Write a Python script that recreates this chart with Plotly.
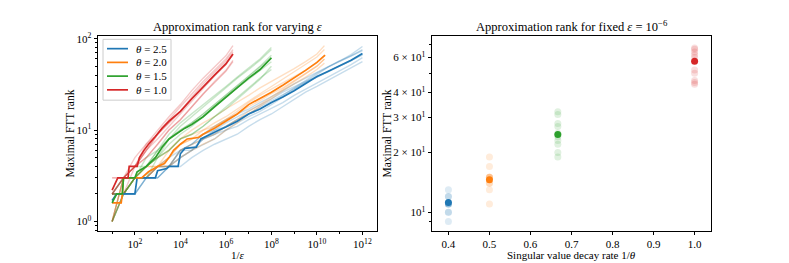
import plotly.graph_objects as go

W, H = 789, 263
FONT = "Liberation Serif"

# ------------------------------------------------------------------ data
thetas = [2.5, 2.0, 1.5, 1.0]
colors = ["#1f77b4", "#ff7f0e", "#2ca02c", "#d62728"]
faint_colors = ["rgba(31,119,180,0.25)", "rgba(255,127,14,0.25)",
                "rgba(44,160,44,0.25)", "rgba(214,39,40,0.25)"]
dot_faint = ["rgba(31,119,180,0.15)", "rgba(255,127,14,0.15)",
             "rgba(44,160,44,0.15)", "rgba(214,39,40,0.15)"]
legend_labels = ["<i>θ</i> = 2.5", "<i>θ</i> = 2.0", "<i>θ</i> = 1.5", "<i>θ</i> = 1.0"]

# log10(1/eps) of the mean curves and mean maximal FTT rank
blue_mean_logx = [1.0, 1.2, 2.0, 2.1, 2.9, 3.0, 3.4, 3.5, 3.9, 4.0, 4.2, 4.7, 4.9, 5.3, 5.7,
                  6.0, 6.5, 7.0, 7.5, 8.0, 8.5, 9.0, 9.5, 10.0, 10.5, 11.0, 11.5, 12.0]
blue_mean_rank = [1.7, 2.0, 2.0, 3.0, 3.0, 3.6, 3.8, 4.0, 4.0, 5.5, 6.3, 6.5, 8.0, 9.0, 10.0,
                  10.8, 12.5, 15.0, 17.0, 20.0, 23.0, 27.0, 32.0, 38.5, 44.0, 50.0, 58.0, 69.0]

orange_mean_logx = [1.0, 1.4, 1.45, 1.5, 2.3, 2.6, 3.0, 3.3, 3.5, 3.7, 4.0, 4.3, 4.8, 5.0,
                    5.5, 6.0, 6.5, 7.0, 7.5, 8.0, 8.5, 9.0, 9.5, 10.0, 10.36]
orange_mean_rank = [1.6, 1.6, 2.0, 3.0, 3.0, 3.5, 4.0, 4.3, 5.0, 6.0, 7.0, 8.0, 8.3, 9.0,
                    10.5, 12.5, 15.0, 19.0, 22.0, 26.0, 31.0, 37.0, 45.0, 55.0, 66.0]

green_mean_logx = [1.0, 1.2, 1.45, 1.5, 2.0, 2.1, 2.5, 2.9, 3.2, 3.5, 3.8, 4.2, 4.5, 5.0,
                   5.5, 6.0, 6.5, 7.0, 7.5, 8.0]
green_mean_rank = [1.6, 2.0, 2.0, 3.0, 3.0, 3.5, 4.0, 5.0, 6.5, 8.0, 9.0, 10.5, 11.5, 14.0,
                   18.0, 23.0, 29.0, 37.0, 46.0, 61.5]

red_mean_logx = [1.0, 1.1, 1.25, 1.7, 1.75, 2.1, 2.2, 2.4, 2.6, 2.9, 3.2, 3.5, 4.0, 4.5,
                 5.0, 5.5, 6.0, 6.31]
red_mean_rank = [2.2, 2.5, 3.0, 3.0, 4.0, 4.0, 5.0, 6.0, 7.0, 8.5, 10.5, 12.5, 16.0, 22.0,
                 30.0, 40.0, 53.0, 68.0]

# individual runs (faint lines), sampled every half decade of 1/eps
blue_grid = [1.0, 1.5, 2.0, 2.5, 3.0, 3.5, 4.0, 4.5, 5.0, 5.5, 6.0, 6.5, 7.0, 7.5, 8.0,
             8.5, 9.0, 9.5, 10.0, 10.5, 11.0, 11.5, 12.0]
blue_runs = [
    [2, 2, 2, 3, 4, 4, 6, 7, 9, 11, 13, 15, 17, 20, 23, 27, 32, 37, 43, 50, 57, 65, 76],
    [1, 2, 3, 3, 3, 4, 5, 6, 8, 9, 11, 13, 15, 17, 20, 24, 29, 35, 42, 49, 56, 64, 74],
    [2, 2, 2, 3, 3, 4, 4, 5, 6, 7, 8, 9, 11, 13, 15, 18, 22, 26, 30, 35, 41, 48, 56],
    [1, 2, 3, 3, 4, 4, 6, 7, 9, 10, 11, 13, 15, 18, 21, 24, 28, 33, 38, 44, 50, 58, 66],
    [2, 2, 2, 3, 4, 5, 6, 7, 8, 9, 10, 12, 14, 16, 19, 23, 28, 34, 41, 49, 57, 67, 82],
    [2, 2, 3, 3, 3, 4, 5, 6, 7, 8, 10, 11, 13, 15, 17, 20, 24, 28, 33, 38, 45, 52, 62],
    [2, 3, 3, 3, 4, 4, 6, 6, 8, 10, 12, 14, 16, 19, 22, 26, 30, 34, 38, 44, 50, 57, 68],
]
orange_grid = [1.0, 1.5, 2.0, 2.5, 3.0, 3.5, 4.0, 4.5, 5.0, 5.5, 6.0, 6.5, 7.0, 7.5, 8.0,
               8.5, 9.0, 9.5, 10.0, 10.33]
orange_runs = [
    [1, 2, 3, 3, 4, 5, 7, 8, 10, 12, 14, 17, 21, 25, 30, 36, 43, 52, 63, 76],
    [1, 3, 3, 4, 4, 6, 8, 9, 10, 11, 13, 15, 18, 21, 25, 29, 35, 42, 50, 60],
    [2, 2, 3, 3, 4, 4, 5, 6, 7, 8, 10, 12, 15, 18, 22, 27, 32, 38, 46, 54],
    [1, 2, 3, 4, 5, 6, 8, 10, 12, 14, 17, 20, 24, 29, 34, 40, 47, 56, 68, 84],
    [2, 2, 3, 3, 4, 4, 6, 7, 8, 9, 11, 13, 16, 19, 23, 28, 34, 41, 50, 60],
    [1, 3, 3, 4, 4, 5, 7, 8, 9, 11, 13, 16, 20, 24, 28, 33, 38, 45, 55, 66],
]
green_grid = [1.0, 1.5, 2.0, 2.5, 3.0, 3.5, 4.0, 4.5, 5.0, 5.5, 6.0, 6.5, 7.0, 7.5, 8.0]
green_runs = [
    [1, 2, 3, 3, 5, 7, 9, 11, 14, 18, 23, 29, 36, 45, 56],
    [2, 2, 3, 4, 6, 8, 11, 14, 18, 23, 29, 37, 46, 58, 76],
    [1, 2, 3, 4, 5, 6, 8, 9, 11, 14, 18, 23, 29, 37, 46],
    [2, 3, 3, 4, 5, 8, 10, 12, 15, 19, 24, 30, 38, 48, 62],
    [1, 3, 3, 5, 6, 9, 12, 15, 19, 24, 30, 38, 48, 60, 80],
    [2, 2, 3, 4, 5, 6, 8, 9, 11, 14, 17, 22, 28, 36, 50],
    [2, 3, 4, 4, 6, 8, 10, 12, 15, 19, 24, 31, 39, 50, 66],
]
red_grid = [1.0, 1.5, 2.0, 2.5, 3.0, 3.5, 4.0, 4.5, 5.0, 5.5, 6.0, 6.31]
red_runs = [
    [2, 3, 4, 6, 8, 11, 15, 21, 29, 39, 52, 68],
    [3, 3, 5, 7, 10, 14, 19, 27, 37, 49, 65, 84],
    [2, 3, 4, 5, 7, 10, 13, 18, 25, 33, 44, 56],
    [1, 3, 4, 6, 9, 12, 16, 22, 30, 40, 54, 66],
    [2, 3, 4, 7, 9, 13, 18, 25, 34, 45, 60, 76],
    [2, 2, 4, 5, 7, 10, 13, 18, 25, 34, 45, 58],
    [3, 3, 4, 6, 9, 12, 16, 23, 32, 43, 57, 72],
]

# right panel: rank at eps = 1e-6 for each run, and the mean
blue_fixed = [9, 10, 10, 11, 11, 11, 11, 12, 12, 13]
orange_fixed = [11, 13, 14, 14, 15, 15, 15, 15, 17, 19]
green_fixed = [19, 20, 22, 23, 24, 25, 27, 28, 31, 32]
red_fixed = [44, 45, 46, 50, 52, 60, 62, 64, 66, 67]
fixed_means = [11.2, 14.6, 24.6, 57.5]

# tick labels
left_xticks = [1e2, 1e4, 1e6, 1e8, 1e10, 1e12]
left_xticktext = ["10<sup>2</sup>", "10<sup>4</sup>", "10<sup>6</sup>",
                  "10<sup>8</sup>", "10<sup>10</sup>", "10<sup>12</sup>"]
left_yticks = [1, 10, 100]
left_yticktext = ["10<sup>0</sup>", "10<sup>1</sup>", "10<sup>2</sup>"]
right_xticks = [0.4, 0.5, 0.6, 0.7, 0.8, 0.9, 1.0]
right_xticktext = ["0.4", "0.5", "0.6", "0.7", "0.8", "0.9", "1.0"]
right_yticks = [10, 20, 30, 40, 60]
right_yticktext = ["10<sup>1</sup>", "2 × 10<sup>1</sup>", "3 × 10<sup>1</sup>",
                   "4 × 10<sup>1</sup>", "6 × 10<sup>1</sup>"]

# ------------------------------------------------------------------ figure
def pow10(v):
    return [10.0 ** a for a in v]

fig = go.Figure()

grids = [blue_grid, orange_grid, green_grid, red_grid]
runs = [blue_runs, orange_runs, green_runs, red_runs]
mean_x = [blue_mean_logx, orange_mean_logx, green_mean_logx, red_mean_logx]
mean_y = [blue_mean_rank, orange_mean_rank, green_mean_rank, red_mean_rank]

for i in range(4):
    for r in runs[i]:
        fig.add_trace(go.Scatter(
            x=pow10(grids[i]), y=r, mode="lines", line=dict(color=faint_colors[i], width=1.4),
            showlegend=False, hoverinfo="skip", xaxis="x", yaxis="y"))
for i in range(4):
    fig.add_trace(go.Scatter(
        x=pow10(mean_x[i]), y=mean_y[i], mode="lines", line=dict(color=colors[i], width=1.7),
        name=legend_labels[i], showlegend=False, xaxis="x", yaxis="y"))

fixed = [blue_fixed, orange_fixed, green_fixed, red_fixed]
for i in range(4):
    fig.add_trace(go.Scatter(
        x=[1.0 / thetas[i]] * len(fixed[i]), y=fixed[i], mode="markers",
        marker=dict(color=dot_faint[i], size=7, line=dict(width=0)),
        showlegend=False, xaxis="x2", yaxis="y2"))
for i in range(4):
    fig.add_trace(go.Scatter(
        x=[1.0 / thetas[i]], y=[fixed_means[i]], mode="markers",
        marker=dict(color=colors[i], size=7, line=dict(width=0)),
        showlegend=False, xaxis="x2", yaxis="y2"))

axis_common = dict(showline=True, mirror=True, linecolor="black", linewidth=1,
                   ticks="outside", ticklen=3.5, tickwidth=0.8, tickcolor="black",
                   showgrid=False, zeroline=False,
                   tickfont=dict(family=FONT, size=11, color="black"))
minor_common = dict(ticks="outside", ticklen=2, tickwidth=0.6, tickcolor="black", showgrid=False)

ytop, ybot = 1 - 32 / H, 1 - 230 / H

fig.update_layout(
    width=W, height=H, margin=dict(l=0, r=0, t=0, b=0),
    paper_bgcolor="white", plot_bgcolor="white",
    font=dict(family=FONT, size=11, color="black"),
    showlegend=False,
    xaxis=dict(domain=[98 / W, 377 / W], type="log", range=[0.38, 12.64],
               tickmode="array", tickvals=left_xticks, ticktext=left_xticktext,
               minor=dict(tickmode="array", tickvals=[1e1, 1e3, 1e5, 1e7, 1e9, 1e11], **minor_common),
               anchor="y", **axis_common),
    yaxis=dict(domain=[ybot, ytop], type="log", range=[-0.1, 2.025],
               tickmode="array", tickvals=left_yticks, ticktext=left_yticktext,
               minor=dict(tickmode="array",
                          tickvals=[0.8, 0.9, 2, 3, 4, 5, 6, 7, 8, 9, 20, 30, 40, 50, 60, 70, 80, 90],
                          **minor_common),
               anchor="x", **axis_common),
    xaxis2=dict(domain=[432 / W, 711 / W], range=[0.36, 1.04],
                tickmode="array", tickvals=right_xticks, ticktext=right_xticktext,
                anchor="y2", **axis_common),
    yaxis2=dict(domain=[ybot, ytop], type="log", range=[0.908, 1.8846],
                tickmode="array", tickvals=right_yticks, ticktext=right_yticktext,
                minor=dict(tickmode="array", tickvals=[9, 50, 70], **minor_common),
                anchor="x2", **axis_common),
)

# legend box (drawn like matplotlib's legend)
lg_left, lg_right, lg_top, lg_bot = 103, 171, 35, 97
fig.add_shape(type="rect", xref="paper", yref="paper",
              x0=lg_left / W, x1=lg_right / W, y0=1 - lg_bot / H, y1=1 - lg_top / H,
              line=dict(color="#cccccc", width=1), fillcolor="rgba(255,255,255,0.8)", layer="above")
row_y = [44.5, 58.5, 72.5, 86.5]
for i in range(4):
    fig.add_shape(type="line", xref="paper", yref="paper",
                  x0=107 / W, x1=128 / W, y0=1 - row_y[i] / H, y1=1 - row_y[i] / H,
                  line=dict(color=colors[i], width=1.7), layer="above")
    fig.add_annotation(text=legend_labels[i], x=134 / W, y=1 - row_y[i] / H,
                       xref="paper", yref="paper", showarrow=False,
                       xanchor="left", yanchor="middle",
                       font=dict(family=FONT, size=11, color="black"))

annots = [
    dict(text="Approximation rank for varying <i>ε</i>", x=237.5 / W, y=1 - 22.5 / H, size=12.5),
    dict(text="Approximation rank for fixed <i>ε</i> = 10<sup>−6</sup>", x=571.5 / W, y=1 - 21.5 / H, size=12.5),
    dict(text="1/<i>ε</i>", x=237.5 / W, y=1 - 254.5 / H, size=11),
    dict(text="Singular value decay rate 1/<i>θ</i>", x=571.5 / W, y=1 - 255 / H, size=11),
]
for a in annots:
    fig.add_annotation(text=a["text"], x=a["x"], y=a["y"], xref="paper", yref="paper",
                       showarrow=False, xanchor="center", yanchor="middle",
                       font=dict(family=FONT, size=a["size"], color="black"))
for xc in [70 / W, 387 / W]:
    fig.add_annotation(text="Maximal FTT rank", x=xc, y=1 - 131 / H, xref="paper", yref="paper",
                       showarrow=False, textangle=-90, xanchor="center", yanchor="middle",
                       font=dict(family=FONT, size=11.5, color="black"))

fig.write_html("out.html", config={"displayModeBar": False},
               post_script="document.body.style.margin='0px';")
